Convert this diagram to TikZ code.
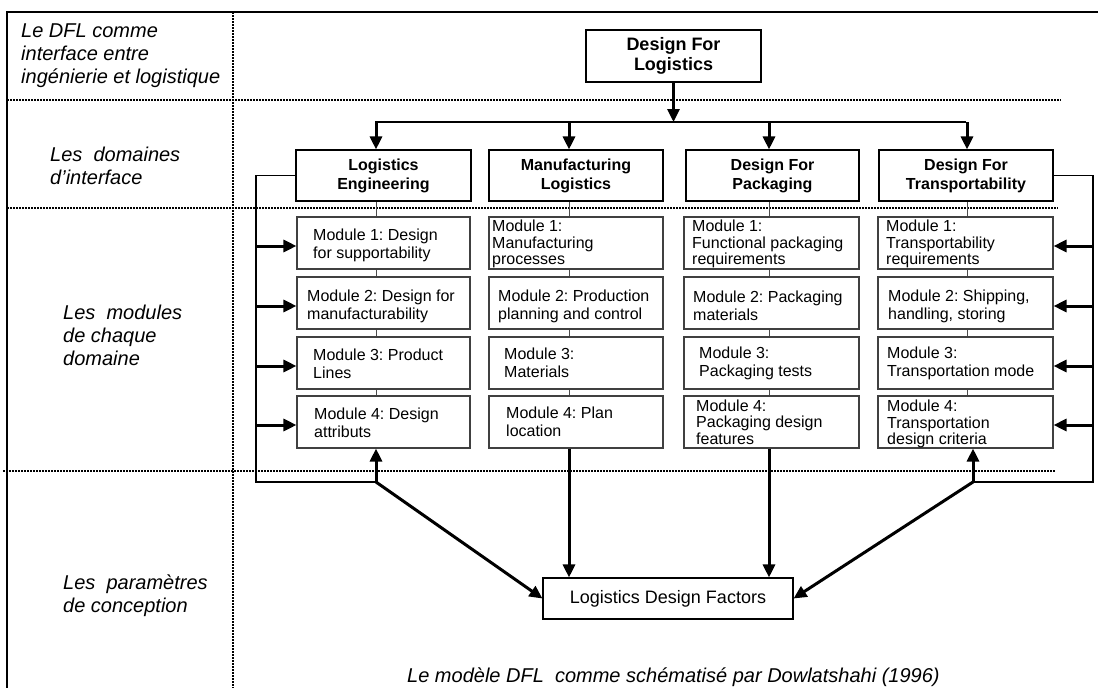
\documentclass[tikz,border=0pt]{standalone}
\usepackage{fontspec}
\setmainfont{Liberation Sans}
\frenchspacing
\usetikzlibrary{arrows.meta,calc}

\begin{document}
\begin{tikzpicture}[x=1pt,y=-1pt,
  frameline/.style={line width=1.3pt},
  sepline/.style={line width=1.1pt, dash pattern=on 2pt off 1pt},
  dombox/.style={draw, line width=1.1pt, minimum height=51pt, inner sep=0pt,
    align=center, font=\fontsize{16}{19}\selectfont\bfseries},
  topbox/.style={draw, line width=1.1pt, minimum width=175pt, minimum height=52pt,
    inner sep=0pt, align=center, font=\fontsize{18}{20}\selectfont\bfseries},
  factorbox/.style={draw, line width=1.1pt, minimum width=250pt, minimum height=41pt,
    inner sep=0pt, font=\fontsize{18}{20}\selectfont},
  modbox/.style={draw=black!75, line width=1.1pt, minimum height=52pt, inner sep=0pt},
  modtxt/.style={anchor=west, inner sep=0pt, align=left, font=\fontsize{16}{18}\selectfont},
  modtxtc/.style={anchor=west, inner sep=0pt, align=left, font=\fontsize{16}{16.5}\selectfont},
  sidelabel/.style={anchor=west, inner sep=0pt, align=left, font=\fontsize{20}{23}\selectfont\itshape},
  thinline/.style={line width=1pt, draw=black!70},
  loopline/.style={line width=1.4pt},
  arr/.style={line width=3pt, -{Triangle[length=13pt,width=12pt]}}
]
\useasboundingbox (0,0) rectangle (1098,688);

% frame and row separators
\draw[frameline] (7,688) -- (7,12) -- (1098,12);
\draw[sepline] (233,12) -- (233,688);
\draw[sepline] (7,100) -- (1061,100);
\draw[sepline] (7,208) -- (1058,208);
\draw[sepline] (3,471) -- (1055,471);

% row labels
\node[sidelabel] (lab1) at (21,56) {Le DFL comme\\interface entre\\ingénierie et logistique};
\node[sidelabel] (lab2) at (50,166) {Les~ domaines\\d’interface};
\node[sidelabel] (lab3) at (63,335) {Les~ modules\\de chaque\\domaine};
\node[sidelabel] (lab4) at (63,596) {Les~ paramètres\\de conception};

% column axes
\coordinate (c1) at (376,0);
\coordinate (c2) at (569,0);
\coordinate (c3) at (769,0);
\coordinate (c4) at (967,0);

% top box and domains
\node[topbox] (dfl) at (673.5,56) {Design For\\Logistics};
\node[dombox, minimum width=175pt] (le) at (383.5,175.5) {Logistics\\Engineering};
\node[dombox, minimum width=174pt] (ml) at (576,175.5) {Manufacturing\\Logistics};
\node[dombox, minimum width=173pt] (dp) at (772.5,175.5) {Design For\\Packaging};
\node[dombox, minimum width=174pt] (dt) at (966,175.5) {Design For\\Transportability};

% module boxes
\foreach \r/\y in {1/243,2/303,3/363,4/422}{
  \node[modbox, minimum width=173pt] (le\r) at (383.5,\y) {};
  \node[modbox, minimum width=174pt] (ml\r) at (576,\y) {};
  \node[modbox, minimum width=175pt] (dp\r) at (771.5,\y) {};
  \node[modbox, minimum width=175pt] (dt\r) at (965.5,\y) {};
}

% module texts
\node[modtxt]  (le1t) at (313,245) {Module 1: Design\\for supportability};
\node[modtxt]  (le2t) at (307,306) {Module 2: Design for\\manufacturability};
\node[modtxt]  (le3t) at (313,364) {Module 3: Product\\Lines};
\node[modtxt]  (le4t) at (314,423) {Module 4: Design\\attributs};
\node[modtxtc] (ml1t) at (492,244) {Module 1:\\Manufacturing\\processes};
\node[modtxt]  (ml2t) at (498,306) {Module 2: Production\\planning and control};
\node[modtxt]  (ml3t) at (504,363) {Module 3:\\Materials};
\node[modtxt]  (ml4t) at (506,422) {Module 4: Plan\\location};
\node[modtxtc] (dp1t) at (692,244) {Module 1:\\Functional packaging\\requirements};
\node[modtxt]  (dp2t) at (693,306) {Module 2: Packaging\\materials};
\node[modtxt]  (dp3t) at (699,363) {Module 3:\\Packaging tests};
\node[modtxtc] (dp4t) at (696,422) {Module 4:\\Packaging design\\features};
\node[modtxtc] (dt1t) at (886,244) {Module 1:\\Transportability\\requirements};
\node[modtxt]  (dt2t) at (888,306) {Module 2: Shipping,\\handling, storing};
\node[modtxt]  (dt3t) at (887,363) {Module 3:\\Transportation mode};
\node[modtxtc] (dt4t) at (887,424) {Module 4:\\Transportation\\design criteria};

% design factors box and caption
\node[factorbox] (ldf) at (668,598.5) {Logistics Design Factors};
\node[anchor=west, inner sep=0pt, font=\fontsize{20}{23}\selectfont\itshape] (cap) at (407,677)
  {Le modèle DFL~ comme schématisé par Dowlatshahi (1996)};

% thin links down each column
\foreach \d/\c in {le/c1, ml/c2, dp/c3, dt/c4}{
  \draw[thinline] (\d.south -| \c) -- (\d1.north -| \c);
  \draw[thinline] (\d1.south -| \c) -- (\d2.north -| \c);
  \draw[thinline] (\d2.south -| \c) -- (\d3.north -| \c);
  \draw[thinline] (\d3.south -| \c) -- (\d4.north -| \c);
}

% distribution from the top box
\coordinate (busL) at (375,122);
\coordinate (busR) at (966,122);
\draw[loopline] (busL) -- (busR);
\draw[arr] (dfl.south) -- (dfl.south |- busL);
\draw[arr] (c1 |- busL) -- (c1 |- le.north);
\draw[arr] (c2 |- busL) -- (c2 |- ml.north);
\draw[arr] (c3 |- busL) -- (c3 |- dp.north);
\draw[arr] (c4 |- busL) -- (c4 |- dt.north);

% feedback loops on both sides
\coordinate (lx) at (256,482);
\coordinate (rx) at (1093,482);
\coordinate (jl) at (376,482);
\coordinate (jr) at (973,482);
\draw[loopline] (le.west) -| (lx) -- (jl);
\draw[loopline] (dt.east) -| (rx) -- (jr);
\foreach \r in {1,2,3,4}{
  \coordinate (pl\r) at ($(le\r.west)+(0,3)$);
  \coordinate (pr\r) at ($(dt\r.east)+(0,3)$);
  \draw[arr] (pl\r -| lx) -- (pl\r);
  \draw[arr] (pr\r -| rx) -- (pr\r);
}
\draw[arr] (jl) -- (jl |- le4.south);
\draw[arr] (jr) -- (jr |- dt4.south);

% links to the design factors
\draw[arr] (jl) -- (ldf.west);
\draw[arr] (jr) -- (ldf.east);
\draw[arr] (c2 |- ml4.south) -- (c2 |- ldf.north);
\draw[arr] (c3 |- dp4.south) -- (c3 |- ldf.north);
\end{tikzpicture}
\end{document}
